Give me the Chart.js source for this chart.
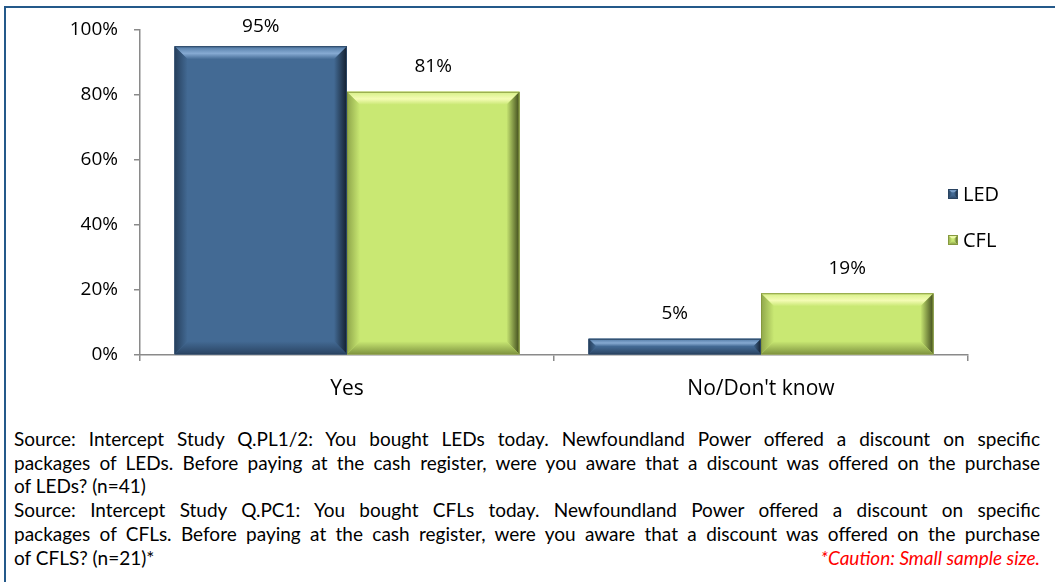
<!DOCTYPE html>
<html>
<head>
<meta charset="utf-8">
<script src="https://cdn.jsdelivr.net/npm/chart.js@4/dist/chart.umd.min.js"></script>
<style>
  html, body { margin: 0; padding: 0; background: #fff; }
  body { width: 1055px; height: 582px; position: relative; overflow: hidden; font-family: Lato, "Open Sans", sans-serif; }
  #frameTop { position: absolute; left: 4px; top: 6px; width: 1051px; height: 2px; background: #24598a; }
  #frameLeft { position: absolute; left: 4px; top: 6px; width: 2px; height: 576px; background: #24598a; }
  #wrap { position: absolute; left: 0; top: 0; width: 1055px; height: 410px; }
  #notes { position: absolute; left: 14px; top: 427px; width: 1026px; font-size: 19px; line-height: 23.7px; color: #000; }
  #notes .j { text-align: justify; text-align-last: justify; }
  #notes .last { display: flex; justify-content: space-between; }
  #notes .red { color: #ff0000; font-style: italic; }
</style>
</head>
<body>
<div id="frameTop"></div>
<div id="frameLeft"></div>
<div id="wrap"><canvas id="c" width="1055" height="410"></canvas></div>
<div id="notes">
  <div class="j">Source: Intercept Study Q.PL1/2: You bought LEDs today. Newfoundland Power offered a discount on specific</div>
  <div class="j">packages of LEDs. Before paying at the cash register, were you aware that a discount was offered on the purchase</div>
  <div>of LEDs? (n=41)</div>
  <div class="j">Source: Intercept Study Q.PC1: You bought CFLs today. Newfoundland Power offered a discount on specific</div>
  <div class="j">packages of CFLs. Before paying at the cash register, were you aware that a discount was offered on the purchase</div>
  <div class="last"><span>of CFLS? (n=21)*</span><span class="red">*Caution: Small sample size.</span></div>
</div>
<script>
const categories = ["Yes", "No/Don't know"];
const ledValues = [95, 5];
const cflValues = [81, 19];
const seriesNames = ["LED", "CFL"];
const yTicks = [0, 20, 40, 60, 80, 100];

const FONT = "'Open Sans', Lato, sans-serif";

const palettes = [
  { face: '#436a94', topOuter: '#4f78a3', topMid: '#86aad2', left: '#263f5c', right: '#131f2e', bottom: '#2a4463', edge: '#2a4462' },
  { face: '#c9e873', topOuter: '#d5ef86', topMid: '#f4fcb4', left: '#8fa64a', right: '#3f4a1c', bottom: '#7f9440', edge: '#86993f' }
];

function grad(ctx, x0, y0, x1, y1, stops) {
  const g = ctx.createLinearGradient(x0, y0, x1, y1);
  stops.forEach(s => g.addColorStop(s[0], s[1]));
  return g;
}

function bevel(ctx, l, t, r, b, p, maxB) {
  const bw = Math.max(1, Math.min(maxB, (b - t) / 2, (r - l) / 2));
  ctx.save();
  ctx.fillStyle = p.face;
  ctx.fillRect(l, t, r - l, b - t);
  ctx.fillStyle = grad(ctx, 0, t, 0, t + bw, [[0, p.topOuter], [0.55, p.topMid], [1, p.face]]);
  ctx.beginPath(); ctx.moveTo(l, t); ctx.lineTo(r, t); ctx.lineTo(r - bw, t + bw); ctx.lineTo(l + bw, t + bw); ctx.closePath(); ctx.fill();
  ctx.fillStyle = grad(ctx, l, 0, l + bw, 0, [[0, p.left], [1, p.face]]);
  ctx.beginPath(); ctx.moveTo(l, t); ctx.lineTo(l + bw, t + bw); ctx.lineTo(l + bw, b - bw); ctx.lineTo(l, b); ctx.closePath(); ctx.fill();
  ctx.fillStyle = grad(ctx, r - bw, 0, r, 0, [[0, p.face], [1, p.right]]);
  ctx.beginPath(); ctx.moveTo(r, t); ctx.lineTo(r, b); ctx.lineTo(r - bw, b - bw); ctx.lineTo(r - bw, t + bw); ctx.closePath(); ctx.fill();
  ctx.fillStyle = grad(ctx, 0, b - bw, 0, b, [[0, p.face], [1, p.bottom]]);
  ctx.beginPath(); ctx.moveTo(l, b); ctx.lineTo(r, b); ctx.lineTo(r - bw, b - bw); ctx.lineTo(l + bw, b - bw); ctx.closePath(); ctx.fill();
  ctx.strokeStyle = p.edge; ctx.lineWidth = 1;
  ctx.strokeRect(l + 0.5, t + 0.5, r - l - 1, b - t - 1);
  ctx.restore();
}

const bevelPlugin = {
  id: 'bevelBars',
  afterDatasetsDraw(chart) {
    const ctx = chart.ctx;
    chart.data.datasets.forEach((ds, di) => {
      const meta = chart.getDatasetMeta(di);
      meta.data.forEach((el) => {
        const { x, y, base, width } = el.getProps(['x', 'y', 'base', 'width'], true);
        bevel(ctx, x - width / 2, y, x + width / 2, base, palettes[di], 13);
      });
    });
    ctx.save();
    ctx.font = '19px ' + FONT;
    ctx.fillStyle = '#000';
    ctx.textAlign = 'center';
    ctx.textBaseline = 'middle';
    chart.data.datasets.forEach((ds, di) => {
      const meta = chart.getDatasetMeta(di);
      meta.data.forEach((el, i) => {
        const { x, y } = el.getProps(['x', 'y'], true);
        const ly = Math.max(y - 25, chart.chartArea.top - 3);
        ctx.fillText(ds.data[i] + '%', x, ly);
      });
    });
    ctx.restore();
  },
  afterDraw(chart) {
    const ctx = chart.ctx;
    ctx.save();
    const lx = 948, ys = [194, 240];
    chart.data.datasets.forEach((ds, di) => {
      bevel(ctx, lx, ys[di] - 5, lx + 10, ys[di] + 5, palettes[di], 4);
      ctx.font = '20px ' + FONT;
      ctx.fillStyle = '#000';
      ctx.textAlign = 'left';
      ctx.textBaseline = 'middle';
      ctx.fillText(ds.label, lx + 15, ys[di] + 1);
    });
    ctx.restore();
  }
};

new Chart(document.getElementById('c'), {
  type: 'bar',
  data: {
    labels: categories,
    datasets: [
      { label: seriesNames[0], data: ledValues, backgroundColor: palettes[0].face, borderWidth: 0 },
      { label: seriesNames[1], data: cflValues, backgroundColor: palettes[1].face, borderWidth: 0 }
    ]
  },
  options: {
    responsive: false,
    animation: false,
    events: [],
    layout: { padding: { top: 30, right: 87, bottom: 0, left: 0 } },
    plugins: { legend: { display: false }, tooltip: { enabled: false } },
    datasets: { bar: { categoryPercentage: 0.833, barPercentage: 1.0 } },
    scales: {
      x: {
        offset: true,
        grid: { offset: true, drawOnChartArea: false, drawTicks: true, tickLength: 6, color: '#8a8a8a', lineWidth: 1.5 },
        border: { color: '#8a8a8a', width: 1.5 },
        ticks: { font: { family: FONT, size: 21 }, color: '#000', padding: 15 },
        afterFit(scale) { scale.height = 55; }
      },
      y: {
        min: 0, max: 100,
        afterBuildTicks(scale) { scale.ticks = yTicks.map(v => ({ value: v })); },
        grid: { drawOnChartArea: false, drawTicks: true, tickLength: 6, color: '#8a8a8a', lineWidth: 1.5 },
        border: { color: '#8a8a8a', width: 1.5 },
        ticks: { font: { family: FONT, size: 19 }, color: '#000', padding: 16, callback: v => v + '%' },
        afterFit(scale) { scale.width = 140; }
      }
    }
  },
  plugins: [bevelPlugin]
});
</script>
</body>
</html>
